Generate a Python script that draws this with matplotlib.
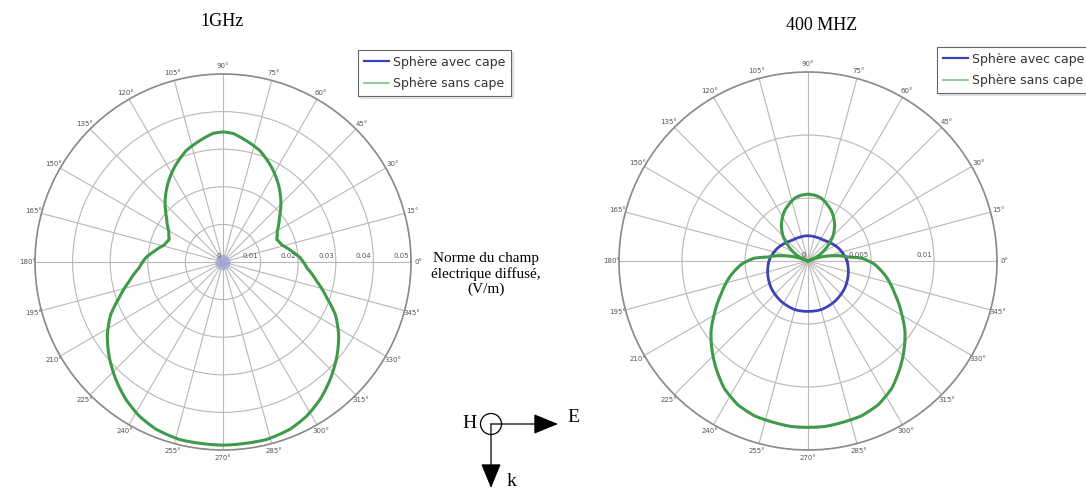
import matplotlib
matplotlib.use("Agg")
import matplotlib.pyplot as plt
import numpy as np
from matplotlib.lines import Line2D
from matplotlib.patches import Circle, PathPatch
from matplotlib.path import Path
from matplotlib.transforms import ScaledTranslation

# ---------------- data ----------------
# 1 GHz, sphere without cloak (angle in degrees, field in V/m)
theta_1g_sans = [3.0, 8.9, 16.0, 22.7, 29.6, 38.2, 46.6, 54.6, 62.8, 71.7, 80.7, 85.5, 90,
                 94.5, 99.3, 108.3, 117.2, 125.4, 133.4, 141.8, 150.4, 157.3, 164.0, 171.1, 177.0,
                 184.1, 191.7, 199.2, 205.3, 212.3, 219.3, 227.4, 234.6, 241.4, 248.1, 256.2,
                 263.7, 270,
                 276.3, 283.8, 291.9, 298.6, 305.4, 312.6, 320.7, 327.7, 334.7, 340.8, 348.3,
                 355.9, 363.0]
r_1g_sans = [0.0206, 0.0185, 0.0163, 0.0155, 0.0166, 0.0191, 0.0224, 0.0254, 0.0283, 0.0312,
             0.0332, 0.0343, 0.0346,
             0.0343, 0.0332, 0.0312, 0.0283, 0.0254, 0.0224, 0.0191, 0.0166, 0.0155, 0.0163,
             0.0185, 0.0206,
             0.0224, 0.0255, 0.0293, 0.0331, 0.0364, 0.0392, 0.0422, 0.0447, 0.0466, 0.0479,
             0.0486, 0.0486, 0.0487,
             0.0486, 0.0486, 0.0479, 0.0466, 0.0447, 0.0422, 0.0392, 0.0364, 0.0331, 0.0293,
             0.0255, 0.0224, 0.0206]

# 1 GHz, sphere with cloak (tiny, near the centre)
theta_1g_avec = [0, 45, 90, 135, 180, 225, 270, 315, 360]
r_1g_avec = [0.0011, 0.0009, 0.0010, 0.0009, 0.0011, 0.0012, 0.0013, 0.0012, 0.0011]

# 400 MHz, sphere without cloak
theta_400_sans = [2.9, 5.7, 8.5, 12, 16, 19, 21, 26.6, 36, 45, 54, 65, 78, 84, 90,
                  96, 102, 115, 126, 135, 144, 153.4, 159, 161, 164, 168, 171.5, 174.3, 177.1,
                  182.9, 192, 201, 209.7, 215.9, 222.1, 229.3, 236.7, 244, 251, 258.4, 264.2, 270,
                  275.8, 281.6, 289, 296, 303.3, 310.7, 317.9, 324.1, 330.3, 339, 348, 357.1,
                  362.9]
r_400_sans = [0.0043, 0.0032, 0.0027, 0.0020, 0.0013, 0.0006, 0.0000, 0.0009, 0.0018, 0.0028,
              0.0036, 0.0044, 0.0051, 0.00525, 0.0053,
              0.00525, 0.0051, 0.0044, 0.0036, 0.0028, 0.0018, 0.0009, 0.0000, 0.0006, 0.0013,
              0.0020, 0.0027, 0.0032, 0.0043,
              0.0053, 0.0064, 0.0074, 0.00857, 0.0095, 0.0103, 0.0112, 0.0121, 0.0127, 0.0130,
              0.0131, 0.0132, 0.0132,
              0.0132, 0.0131, 0.0130, 0.0127, 0.0121, 0.0112, 0.0103, 0.0095, 0.00857, 0.0074,
              0.0064, 0.0053, 0.0043]

# 400 MHz, sphere with cloak
theta_400_avec = [0, 14, 24, 42.5, 55, 70, 90, 110, 125, 137.5, 156, 166, 180,
                  194, 216, 236, 254.6, 270, 285.4, 304, 324, 346, 360]
r_400_avec = [0.0031, 0.0028, 0.0026, 0.0022, 0.00205, 0.0020, 0.0020, 0.0020, 0.00205,
              0.0022, 0.0026, 0.0028, 0.0031,
              0.0033, 0.00362, 0.00384, 0.0040, 0.0040, 0.0040, 0.00384, 0.00362, 0.0033,
              0.0031]

rticks_left = [0, 0.01, 0.02, 0.03, 0.04, 0.05]
rlabels_left = ["0", "0.01", "0.02", "0.03", "0.04", "0.05"]
rticks_right = [0, 0.005, 0.01, 0.015]
rlabels_right = ["0", "0.005", "0.01", ""]
theta_ticks = list(range(0, 360, 15))

series_names = ["Sphère avec cape", "Sphère sans cape"]
titles = ["1GHz", "400 MHZ"]

# ---------------- styles ----------------
BLUE = "#3a42b4"
GREEN = "#3f9a4a"
GRID = "#b8b8b8"
SERIF = ["Liberation Serif", "DejaVu Serif"]

W, H = 1086, 490
fig = plt.figure(figsize=(W / 100, H / 100), dpi=100)
fig.patch.set_facecolor("white")


def make_polar(rect, rmax, rticks, rlabels):
    ax = fig.add_axes(rect, projection="polar")
    ax.set_theta_zero_location("E")
    ax.set_thetagrids(theta_ticks, labels=[f"{t}°" for t in theta_ticks],
                      fontsize=5, color="#555555")
    ax.set_rlim(0, rmax)
    ax.set_rticks(rticks)
    ax.set_yticklabels([""] * len(rticks))
    ax.grid(True, color=GRID, lw=0.8)
    ax.spines["polar"].set_color("#8a8a8a")
    ax.spines["polar"].set_linewidth(1.2)
    ax.tick_params(axis="x", pad=-5)
    off = ax.transData + ScaledTranslation(-2 / 100, 6 / 100, fig.dpi_scale_trans)
    for rv, lab in zip(rticks, rlabels):
        ax.text(0.0, rv, lab, transform=off, ha="right", va="center",
                fontsize=5, color="#555555", zorder=4)
    return ax


def polar_curve(ax, theta_deg, r, color, lw, alpha=1.0, z=3):
    verts = np.column_stack([np.deg2rad(theta_deg), r])
    path = Path(verts, _interpolation_steps=24)
    patch = PathPatch(path, fill=False, edgecolor=color, lw=lw, alpha=alpha,
                      zorder=z, joinstyle="round", capstyle="round",
                      transform=ax.transData)
    ax.add_patch(patch)
    return patch


axL = make_polar([(223 - 188) / W, (H - 262 - 188) / H, 376 / W, 376 / H],
                 0.05, rticks_left, rlabels_left)
axR = make_polar([(808 - 189) / W, (H - 261 - 189) / H, 378 / W, 378 / H],
                 0.015, rticks_right, rlabels_right)

polar_curve(axL, theta_1g_avec, r_1g_avec, "#8f98e6", 5.0, alpha=0.55)
polar_curve(axL, theta_1g_sans, r_1g_sans, GREEN, 2.2)
polar_curve(axR, theta_400_avec, r_400_avec, BLUE, 2.0)
polar_curve(axR, theta_400_sans, r_400_sans, GREEN, 2.2)
for ax, rmax in [(axL, 0.05), (axR, 0.015)]:
    ax.set_rlim(0, rmax)

handles = [Line2D([], [], color=BLUE, lw=1.6), Line2D([], [], color="#7cc47f", lw=1.2)]
for anchor in [(358 / W, 1 - 50 / H), (937 / W, 1 - 47 / H)]:
    leg = fig.legend(handles, series_names, loc="upper left", bbox_to_anchor=anchor,
                     bbox_transform=fig.transFigure, borderaxespad=0, fontsize=9,
                     frameon=True, fancybox=False, handlelength=2.0,
                     borderpad=0.45, labelspacing=0.7, handletextpad=0.35,
                     shadow={"color": "0.8", "ox": 1.5, "oy": -1.5})
    leg.get_frame().set_edgecolor("#666666")
    leg.get_frame().set_linewidth(0.8)
    for t in leg.get_texts():
        t.set_color("#333333")

# ---------------- overlay for texts and the field diagram ----------------
ov = fig.add_axes([0, 0, 1, 1], zorder=10)
ov.set_xlim(0, W)
ov.set_ylim(H, 0)
ov.axis("off")
ov.patch.set_alpha(0)

ov.text(222, 21, titles[0], ha="center", va="center", family=SERIF, fontsize=13)
ov.text(822, 26, titles[1], ha="center", va="center", family=SERIF, fontsize=13)
ov.text(486, 274, "Norme du champ\nélectrique diffusé,\n(V/m)", ha="center",
        va="center", family=SERIF, fontsize=11, linespacing=1.2)

cx, cy = 491, 424
ov.add_patch(Circle((cx, cy), 10.5, fill=False, lw=0.9, color="black"))
ov.annotate("", xy=(558, cy), xytext=(cx, cy),
            arrowprops=dict(arrowstyle="-|>,head_length=1.1,head_width=0.45",
                            color="black", lw=0.9, shrinkA=0, shrinkB=0,
                            mutation_scale=14))
ov.annotate("", xy=(cx, 488), xytext=(cx, cy),
            arrowprops=dict(arrowstyle="-|>,head_length=1.1,head_width=0.45",
                            color="black", lw=0.9, shrinkA=0, shrinkB=0,
                            mutation_scale=14))
ov.text(470, 423, "H", ha="center", va="center", family=SERIF, fontsize=14)
ov.text(573, 417, "E", ha="center", va="center", family=SERIF, fontsize=14)
ov.text(512, 481, "k", ha="center", va="center", family=SERIF, fontsize=14)

fig.savefig("out.png", dpi=100, facecolor="white")
